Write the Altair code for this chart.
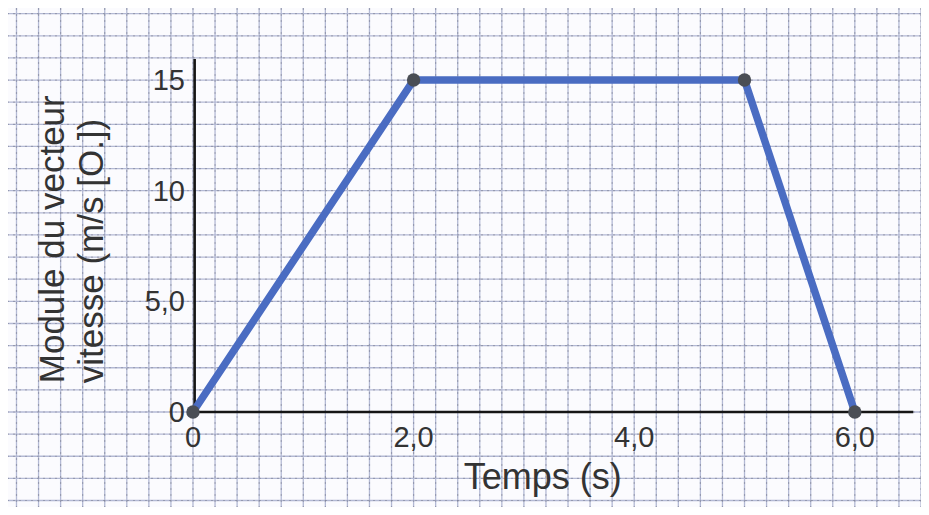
import altair as alt
import pandas as pd
import numpy as np

# Data
temps = [0, 2, 5, 6]
vitesse = [0, 15, 15, 0]

x_tick_values = [0, 2, 4, 6]
x_tick_labels = ["0", "2,0", "4,0", "6,0"]
y_tick_values = [0, 5, 10, 15]
y_tick_labels = ["0", "5,0", "10", "15"]

x_title = "Temps (s)"
y_title_lines = ["Module du vecteur", "vitesse (m/s [O.])"]

# Scales (graph-paper view)
X_DOM = [-1.677, 6.600]
Y_DOM = [-4.293, 18.256]
xs = alt.Scale(domain=X_DOM, nice=False, zero=False)
ys = alt.Scale(domain=Y_DOM, nice=False, zero=False)

W, H = 913, 499
FONT = "Liberation Sans"
PAPER_LINE = "#b3b9d4"
DOT_LINE = "#5d5f6e"

# Graph-paper grid
vx = pd.DataFrame({"x": np.round(np.arange(-8, 34) * 0.2, 3)})
hy = pd.DataFrame({"y": np.arange(-4, 19)})

grid_v = alt.Chart(vx).mark_rule(color=PAPER_LINE, strokeWidth=1.3).encode(
    x=alt.X("x:Q", scale=xs, axis=None))
grid_h = alt.Chart(hy).mark_rule(color=PAPER_LINE, strokeWidth=1.3).encode(
    y=alt.Y("y:Q", scale=ys, axis=None))
grid_v2 = alt.Chart(vx).mark_rule(color=DOT_LINE, strokeWidth=1.2, strokeDash=[2, 4], opacity=0.35).encode(
    x=alt.X("x:Q", scale=xs, axis=None))
grid_h2 = alt.Chart(hy).mark_rule(color=DOT_LINE, strokeWidth=1.2, strokeDash=[2, 4], opacity=0.35).encode(
    y=alt.Y("y:Q", scale=ys, axis=None))

# Axes lines
xaxis_df = pd.DataFrame({"x": [-0.03], "x2": [6.53], "y": [0]})
yaxis_df = pd.DataFrame({"x": [0.015], "y": [0], "y2": [15.95]})
x_axis = alt.Chart(xaxis_df).mark_rule(color="#151515", strokeWidth=2.6).encode(
    x=alt.X("x:Q", scale=xs, axis=None), x2="x2:Q", y=alt.Y("y:Q", scale=ys, axis=None))
y_axis = alt.Chart(yaxis_df).mark_rule(color="#151515", strokeWidth=2.6).encode(
    x=alt.X("x:Q", scale=xs, axis=None), y=alt.Y("y:Q", scale=ys, axis=None), y2="y2:Q")

# Tick labels
xl = pd.DataFrame({"x": x_tick_values, "y": [0] * 4, "t": x_tick_labels})
yl = pd.DataFrame({"x": [0] * 4, "y": y_tick_values, "t": y_tick_labels})
x_labels = alt.Chart(xl).mark_text(font=FONT, fontSize=29, color="#333333", baseline="top", dy=12).encode(
    x=alt.X("x:Q", scale=xs, axis=None), y=alt.Y("y:Q", scale=ys, axis=None), text="t:N")
y_labels = alt.Chart(yl).mark_text(font=FONT, fontSize=29, color="#333333", align="right", baseline="middle", dx=-8, dy=1).encode(
    x=alt.X("x:Q", scale=xs, axis=None), y=alt.Y("y:Q", scale=ys, axis=None), text="t:N")

# Titles
xt = pd.DataFrame({"x": [3.17], "y": [-2.98], "t": [x_title]})
x_title_mark = alt.Chart(xt).mark_text(font=FONT, fontSize=36, color="#333333", baseline="middle").encode(
    x=alt.X("x:Q", scale=xs, axis=None), y=alt.Y("y:Q", scale=ys, axis=None), text="t:N")
yt = pd.DataFrame({"x": [-1.27, -0.92], "y": [1.3, 1.3], "t": y_title_lines})
y_title_mark = alt.Chart(yt).mark_text(font=FONT, fontSize=35, color="#333333", angle=270,
                                       align="left", baseline="middle").encode(
    x=alt.X("x:Q", scale=xs, axis=None), y=alt.Y("y:Q", scale=ys, axis=None), text="t:N")

# Data line and points
df = pd.DataFrame({"temps": temps, "vitesse": vitesse})
line = alt.Chart(df).mark_line(color="#4a6cc2", strokeWidth=7.5, strokeJoin="round").encode(
    x=alt.X("temps:Q", scale=xs, axis=None), y=alt.Y("vitesse:Q", scale=ys, axis=None))
pts = alt.Chart(df).mark_circle(color="#4a4e55", size=180, opacity=1).encode(
    x=alt.X("temps:Q", scale=xs, axis=None), y=alt.Y("vitesse:Q", scale=ys, axis=None))

chart = alt.layer(
    grid_v, grid_h, grid_v2, grid_h2, x_axis, y_axis, x_labels, y_labels,
    x_title_mark, y_title_mark, line, pts
).properties(
    width=W, height=H, padding=0, autosize=alt.AutoSizeParams(type="none"), background="#fbfbfe"
).configure_view(stroke=None)

chart.save("out.html", embed_options={"renderer": "svg", "actions": False})
